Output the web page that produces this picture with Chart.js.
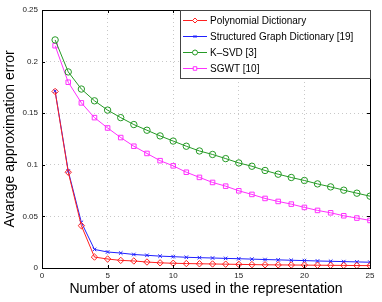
<!DOCTYPE html>
<html>
<head>
<meta charset="utf-8">
<script src="https://cdn.jsdelivr.net/npm/chart.js@4/dist/chart.umd.min.js"></script>
<style>
  html, body { margin: 0; padding: 0; background: #fff; }
  #wrap { width: 382px; height: 302px; }
</style>
</head>
<body>
<div id="wrap"><canvas id="grafico"></canvas></div>
<script>
// numero de atomos (eixo x)
const atoms = [1,2,3,4,5,6,7,8,9,10,11,12,13,14,15,16,17,18,19,20,21,22,23,24,25];

const polynomial = [0.171,0.0928,0.041,0.0106,0.0087,0.0074,0.0068,0.0058,0.0050,0.0046,0.0043,0.0041,0.0039,0.0037,0.0035,0.0033,0.0031,0.0030,0.0029,0.0028,0.0027,0.0026,0.0025,0.0024,0.0023];
const structured = [0.1715,0.094,0.0442,0.018,0.0155,0.0145,0.0131,0.0123,0.0115,0.0110,0.0104,0.0100,0.0097,0.0093,0.0090,0.0086,0.0082,0.0079,0.0075,0.0072,0.0068,0.0065,0.0062,0.0059,0.0056];
const ksvd = [0.221,0.190,0.1734,0.162,0.153,0.1457,0.139,0.1335,0.128,0.123,0.118,0.1134,0.110,0.106,0.1018,0.0986,0.0945,0.0909,0.0877,0.0848,0.0815,0.0786,0.0754,0.0725,0.0696];
const sgwt = [0.2154,0.180,0.160,0.1457,0.1357,0.1264,0.118,0.111,0.104,0.099,0.0928,0.0878,0.0829,0.0793,0.0748,0.0713,0.0674,0.0645,0.0619,0.0587,0.0558,0.0535,0.0506,0.0484,0.0461];

const xTicks = [0, 5, 10, 15, 20, 25];
const yTicks = [0, 0.05, 0.1, 0.15, 0.2, 0.25];

const FONT = 'Liberation Sans, Arial, sans-serif';

function toPoints(values) {
    return atoms.map((a, i) => ({ x: a, y: values[i] }));
}

function makeSet(label, values, color, style) {
    return {
        label: label,
        data: toPoints(values),
        borderColor: color,
        backgroundColor: 'transparent',
        borderWidth: 1,
        pointStyle: style,
        pointRadius: style === 'crossRot' ? 2.5 : 3.2,
        pointBorderColor: color,
        pointBorderWidth: 1,
        pointBackgroundColor: 'transparent',
        tension: 0
    };
}

// desenha caixa ao redor do grafico e legenda no canto
const boxLegend = {
    id: 'boxLegend',
    afterDraw(chart) {
        const ctx = chart.ctx;
        const a = chart.chartArea;
        ctx.save();
        ctx.strokeStyle = '#000';
        ctx.lineWidth = 1;
        ctx.strokeRect(Math.round(a.left) + 0.5, Math.round(a.top) + 0.5, Math.round(a.right - a.left), Math.round(a.bottom - a.top));

        // pequenas marcas internas
        const xs = chart.scales.x, ys = chart.scales.y;
        ctx.beginPath();
        xTicks.forEach(v => {
            const px = Math.round(xs.getPixelForValue(v)) + 0.5;
            ctx.moveTo(px, a.bottom); ctx.lineTo(px, a.bottom - 3);
            ctx.moveTo(px, a.top); ctx.lineTo(px, a.top + 3);
        });
        yTicks.forEach(v => {
            const py = Math.round(ys.getPixelForValue(v)) + 0.5;
            ctx.moveTo(a.left, py); ctx.lineTo(a.left + 3, py);
            ctx.moveTo(a.right, py); ctx.lineTo(a.right - 3, py);
        });
        ctx.stroke();

        // legenda
        const lx = 180, ly = 10, lw = 190, lh = 68;
        ctx.fillStyle = '#fff';
        ctx.fillRect(lx, ly, lw, lh);
        ctx.strokeStyle = '#444';
        ctx.strokeRect(lx + 0.5, ly + 0.5, lw, lh);
        ctx.font = '10px ' + FONT;
        ctx.textBaseline = 'middle';
        chart.data.datasets.forEach((ds, i) => {
            const y = ly + 10.5 + i * 16;
            ctx.strokeStyle = ds.borderColor;
            ctx.lineWidth = 1;
            ctx.beginPath();
            ctx.moveTo(lx + 3, y); ctx.lineTo(lx + 27, y);
            ctx.stroke();
            ctx.fillStyle = '#fff';
            Chart.helpers.drawPoint(ctx, {
                pointStyle: ds.pointStyle,
                radius: ds.pointStyle === 'crossRot' ? 2 : 2.5,
                borderWidth: 1
            }, lx + 15, y);
            ctx.fillStyle = '#000';
            ctx.fillText(ds.label, lx + 30, y + 0.5);
        });
        ctx.restore();
    }
};

const ctx = document.getElementById('grafico').getContext('2d');
new Chart(ctx, {
    type: 'line',
    data: {
        datasets: [
            makeSet('Polynomial Dictionary', polynomial, '#ff2020', 'rectRot'),
            makeSet('Structured Graph Dictionary [19]', structured, '#2020ff', 'crossRot'),
            makeSet('K\u2013SVD [3]', ksvd, '#259a25', 'circle'),
            makeSet('SGWT [10]', sgwt, '#ff30ff', 'rect')
        ]
    },
    options: {
        responsive: true,
        maintainAspectRatio: false,
        animation: false,
        layout: { padding: { top: 10, right: 12, left: 0, bottom: 0 } },
        plugins: {
            legend: { display: false },
            tooltip: { enabled: false }
        },
        scales: {
            x: {
                type: 'linear',
                min: 0, max: 25,
                afterBuildTicks: s => { s.ticks = xTicks.map(v => ({ value: v })); },
                afterFit: s => { s.height = 34; },
                grid: { color: '#c8c8c8', drawTicks: false },
                border: { display: false, dash: [1, 3] },
                ticks: { font: { size: 8, family: FONT }, color: '#222', padding: 3, maxRotation: 0 },
                title: { display: true, text: 'Number of atoms used in the representation', font: { size: 14, family: FONT }, color: '#000', padding: { top: 0, bottom: 4 } }
            },
            y: {
                min: 0, max: 0.25,
                afterBuildTicks: s => { s.ticks = yTicks.map(v => ({ value: v })); },
                afterFit: s => { s.width = 42; },
                grid: { color: '#c8c8c8', drawTicks: false },
                border: { display: false, dash: [1, 3] },
                ticks: { font: { size: 8, family: FONT }, color: '#222', padding: 4,
                    callback: v => String(Math.round(v * 100) / 100) },
                title: { display: true, text: 'Avarage approximation error', font: { size: 14, family: FONT }, color: '#000', padding: { top: 2, bottom: 0 } }
            }
        }
    },
    plugins: [boxLegend]
});
</script>
</body>
</html>
